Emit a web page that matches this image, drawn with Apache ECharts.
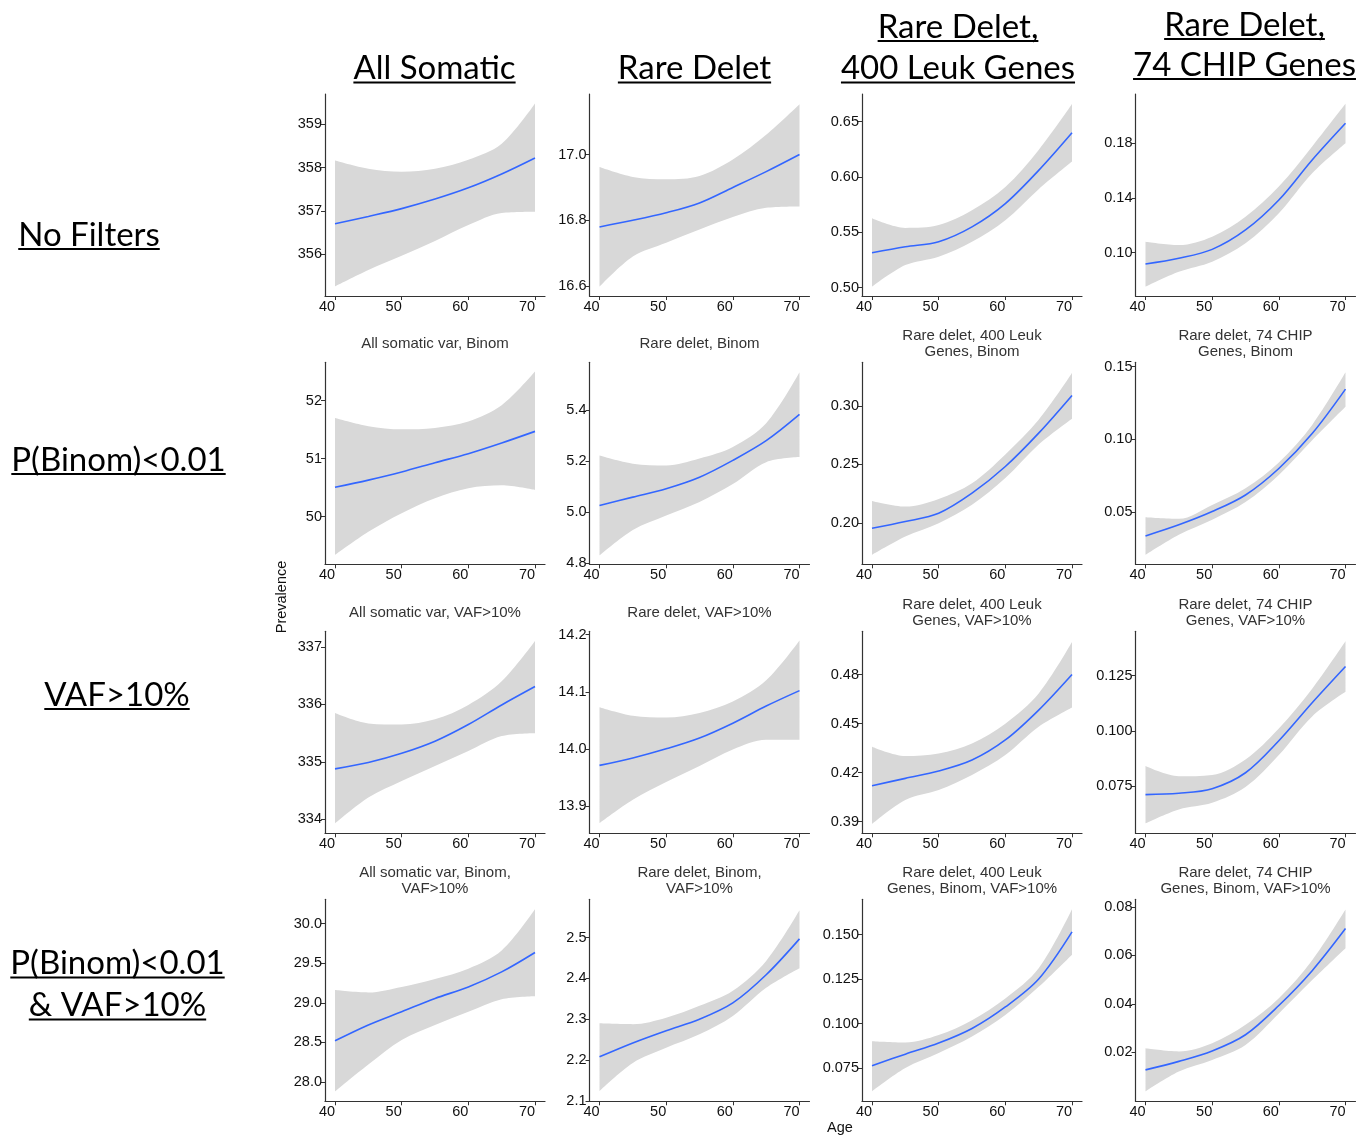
<!DOCTYPE html>
<html><head><meta charset="utf-8">
<script src="https://cdn.jsdelivr.net/npm/echarts@6/dist/echarts.min.js"></script>
<style>html,body{margin:0;padding:0;background:#fff}#c{width:1368px;height:1137px}</style>
</head><body><div id="c"></div><script>
// ---- data ----
const ages = [40, 45, 50, 55, 60, 65, 70];
const ageTicks = ['40', '50', '60', '70'];

const colHeaders = [['All Somatic'], ['Rare Delet'], ['Rare Delet,', '400 Leuk Genes'], ['Rare Delet,', '74 CHIP Genes']];
const rowHeaders = [['No Filters'], ['P(Binom)<0.01'], ['VAF>10%'], ['P(Binom)<0.01', '& VAF>10%']];
const subtitles = [
  ['', '', '', ''],
  ['All somatic var, Binom', 'Rare delet, Binom', 'Rare delet, 400 Leuk\nGenes, Binom', 'Rare delet, 74 CHIP\nGenes, Binom'],
  ['All somatic var, VAF>10%', 'Rare delet, VAF>10%', 'Rare delet, 400 Leuk\nGenes, VAF>10%', 'Rare delet, 74 CHIP\nGenes, VAF>10%'],
  ['All somatic var, Binom,\nVAF>10%', 'Rare delet, Binom,\nVAF>10%', 'Rare delet, 400 Leuk\nGenes, Binom, VAF>10%', 'Rare delet, 74 CHIP\nGenes, Binom, VAF>10%']
];

// Row 1: No filters
const r1c1Fit = [356.70, 356.87, 357.05, 357.27, 357.53, 357.85, 358.22];
const r1c1Hi  = [358.16, 357.97, 357.90, 357.97, 358.18, 358.55, 359.48];
const r1c1Lo  = [355.25, 355.63, 355.96, 356.30, 356.67, 356.95, 356.98];
const r1c1Ticks = ['356', '357', '358', '359'];
const r1c1Range = [355.03, 359.70];

const r1c2Fit = [16.780, 16.800, 16.823, 16.853, 16.900, 16.948, 17.000];
const r1c2Hi  = [16.962, 16.932, 16.925, 16.935, 16.985, 17.060, 17.153];
const r1c2Lo  = [16.598, 16.690, 16.732, 16.772, 16.810, 16.838, 16.842];
const r1c2Ticks = ['16.6', '16.8', '17.0'];
const r1c2Range = [16.57, 17.184];

const r1c3Fit = [0.5316, 0.5370, 0.5416, 0.5550, 0.5760, 0.6060, 0.6400];
const r1c3Hi  = [0.5627, 0.5540, 0.5566, 0.5700, 0.5910, 0.6245, 0.6660];
const r1c3Lo  = [0.5008, 0.5204, 0.5280, 0.5415, 0.5610, 0.5890, 0.6140];
const r1c3Ticks = ['0.50', '0.55', '0.60', '0.65'];
const r1c3Range = [0.4925, 0.675];

const r1c4Fit = [0.0917, 0.0959, 0.1024, 0.1166, 0.1385, 0.1678, 0.1946];
const r1c4Hi  = [0.1080, 0.1056, 0.1117, 0.1263, 0.1483, 0.1776, 0.2088];
const r1c4Lo  = [0.0751, 0.0860, 0.0934, 0.1068, 0.1288, 0.1580, 0.1800];
const r1c4Ticks = ['0.10', '0.14', '0.18'];
const r1c4Range = [0.0683, 0.216];

// Row 2: Binom
const r2c1Fit = [50.506, 50.63, 50.77, 50.93, 51.086, 51.27, 51.47];
const r2c1Hi  = [51.70, 51.56, 51.506, 51.53, 51.64, 51.92, 52.50];
const r2c1Lo  = [49.34, 49.74, 50.06, 50.32, 50.49, 50.54, 50.46];
const r2c1Ticks = ['50', '51', '52'];
const r2c1Range = [49.18, 52.66];

const r2c2Fit = [5.026, 5.059, 5.092, 5.137, 5.203, 5.280, 5.383];
const r2c2Hi  = [5.222, 5.190, 5.183, 5.210, 5.255, 5.348, 5.548];
const r2c2Lo  = [4.830, 4.930, 4.987, 5.040, 5.110, 5.196, 5.216];
const r2c2Ticks = ['4.8', '5.0', '5.2', '5.4'];
const r2c2Range = [4.796, 5.587];

const r2c3Fit = [0.1957, 0.2014, 0.2085, 0.2256, 0.2483, 0.2767, 0.3088];
const r2c3Hi  = [0.2190, 0.2142, 0.2207, 0.2340, 0.2585, 0.2880, 0.3278];
const r2c3Lo  = [0.1730, 0.1886, 0.2000, 0.2156, 0.2384, 0.2670, 0.2890];
const r2c3Ticks = ['0.20', '0.25', '0.30'];
const r2c3Range = [0.165, 0.337];

const r2c4Fit = [0.0338, 0.0414, 0.0505, 0.0619, 0.0801, 0.1041, 0.1346];
const r2c4Hi  = [0.0466, 0.0455, 0.0551, 0.0665, 0.0842, 0.1100, 0.1461];
const r2c4Lo  = [0.0208, 0.0346, 0.0449, 0.0570, 0.0757, 0.0995, 0.1224];
const r2c4Ticks = ['0.05', '0.10', '0.15'];
const r2c4Range = [0.0143, 0.153];

// Row 3: VAF>10%
const r3c1Fit = [334.88, 334.99, 335.15, 335.36, 335.65, 335.99, 336.31];
const r3c1Hi  = [335.85, 335.67, 335.65, 335.74, 335.99, 336.40, 337.10];
const r3c1Lo  = [333.93, 334.38, 334.67, 334.93, 335.19, 335.45, 335.50];
const r3c1Ticks = ['334', '335', '336', '337'];
const r3c1Range = [333.76, 337.27];

const r3c2Fit = [13.971, 13.984, 14.000, 14.019, 14.045, 14.075, 14.102];
const r3c2Hi  = [14.073, 14.058, 14.055, 14.063, 14.083, 14.120, 14.190];
const r3c2Lo  = [13.870, 13.911, 13.942, 13.970, 13.999, 14.016, 14.016];
const r3c2Ticks = ['13.9', '14.0', '14.1', '14.2'];
const r3c2Range = [13.852, 14.206];

const r3c3Fit = [0.4120, 0.4165, 0.4210, 0.4277, 0.4400, 0.4583, 0.4801];
const r3c3Hi  = [0.4359, 0.4302, 0.4318, 0.4379, 0.4500, 0.4685, 0.5000];
const r3c3Lo  = [0.3886, 0.4033, 0.4094, 0.4186, 0.4308, 0.4481, 0.4599];
const r3c3Ticks = ['0.39', '0.42', '0.45', '0.48'];
const r3c3Range = [0.3829, 0.5065];

const r3c4Fit = [0.0711, 0.0717, 0.0738, 0.0810, 0.0955, 0.1127, 0.1291];
const r3c4Hi  = [0.0840, 0.0794, 0.0800, 0.0870, 0.1010, 0.1190, 0.1405];
const r3c4Lo  = [0.0581, 0.0644, 0.0674, 0.0745, 0.0890, 0.1065, 0.1176];
const r3c4Ticks = ['0.075', '0.100', '0.125'];
const r3c4Range = [0.0536, 0.145];

// Row 4: Binom & VAF>10%
const r4c1Fit = [28.52, 28.72, 28.887, 29.055, 29.20, 29.39, 29.635];
const r4c1Hi  = [29.16, 29.13, 29.20, 29.30, 29.43, 29.66, 30.18];
const r4c1Lo  = [27.88, 28.22, 28.53, 28.72, 28.887, 29.046, 29.084];
const r4c1Ticks = ['28.0', '28.5', '29.0', '29.5', '30.0'];
const r4c1Range = [27.757, 30.306];

const r4c2Fit = [2.208, 2.242, 2.272, 2.300, 2.340, 2.409, 2.497];
const r4c2Hi  = [2.290, 2.288, 2.304, 2.333, 2.370, 2.443, 2.567];
const r4c2Lo  = [2.124, 2.193, 2.230, 2.263, 2.308, 2.377, 2.425];
const r4c2Ticks = ['2.1', '2.2', '2.3', '2.4', '2.5'];
const r4c2Range = [2.099, 2.594];

const r4c3Fit = [0.0763, 0.0828, 0.0890, 0.0972, 0.1093, 0.1250, 0.1515];
const r4c3Hi  = [0.0901, 0.0894, 0.0935, 0.1019, 0.1140, 0.1310, 0.1642];
const r4c3Lo  = [0.0619, 0.0750, 0.0834, 0.0927, 0.1048, 0.1206, 0.1387];
const r4c3Ticks = ['0.075', '0.100', '0.125', '0.150'];
const r4c3Range = [0.0563, 0.1698];

const r4c4Fit = [0.0127, 0.0162, 0.0205, 0.0272, 0.0393, 0.0537, 0.0711];
const r4c4Hi  = [0.0216, 0.0203, 0.0237, 0.0313, 0.0423, 0.0580, 0.0790];
const r4c4Lo  = [0.0038, 0.0120, 0.0168, 0.0230, 0.0360, 0.0498, 0.0630];
const r4c4Ticks = ['0.02', '0.04', '0.06', '0.08'];
const r4c4Range = [-0.0003, 0.0832];

const panels = [
  [r1c1Fit, r1c1Lo, r1c1Hi, r1c1Ticks, r1c1Range], [r1c2Fit, r1c2Lo, r1c2Hi, r1c2Ticks, r1c2Range],
  [r1c3Fit, r1c3Lo, r1c3Hi, r1c3Ticks, r1c3Range], [r1c4Fit, r1c4Lo, r1c4Hi, r1c4Ticks, r1c4Range],
  [r2c1Fit, r2c1Lo, r2c1Hi, r2c1Ticks, r2c1Range], [r2c2Fit, r2c2Lo, r2c2Hi, r2c2Ticks, r2c2Range],
  [r2c3Fit, r2c3Lo, r2c3Hi, r2c3Ticks, r2c3Range], [r2c4Fit, r2c4Lo, r2c4Hi, r2c4Ticks, r2c4Range],
  [r3c1Fit, r3c1Lo, r3c1Hi, r3c1Ticks, r3c1Range], [r3c2Fit, r3c2Lo, r3c2Hi, r3c2Ticks, r3c2Range],
  [r3c3Fit, r3c3Lo, r3c3Hi, r3c3Ticks, r3c3Range], [r3c4Fit, r3c4Lo, r3c4Hi, r3c4Ticks, r3c4Range],
  [r4c1Fit, r4c1Lo, r4c1Hi, r4c1Ticks, r4c1Range], [r4c2Fit, r4c2Lo, r4c2Hi, r4c2Ticks, r4c2Range],
  [r4c3Fit, r4c3Lo, r4c3Hi, r4c3Ticks, r4c3Range], [r4c4Fit, r4c4Lo, r4c4Hi, r4c4Ticks, r4c4Range]
];

// ---- layout ----
const colLeft = [325, 589.5, 862, 1135.5];
const rowTop = [94, 362.3, 631.3, 899.3];
const PW = 220, PH = 202;
const SMOOTH = 0.33;
const TICK_FONT = 'Liberation Sans, Arial, sans-serif';
const HEAD_FONT = '33px Lato, "Open Sans", sans-serif';

const grids = [], xAxes = [], yAxes = [], series = [], graphic = [];
const ageVals = ageTicks.map(Number);

panels.forEach((p, k) => {
  const r = Math.floor(k / 4), c = k % 4;
  const [fit, lo, hi, ticks, range] = p;
  const tickVals = ticks.map(Number);
  grids.push({ left: colLeft[c], top: rowTop[r], width: PW, height: PH });
  xAxes.push({
    gridIndex: k, type: 'value', min: 38.5, max: 71.5, z: 5,
    axisLine: { onZero: false, lineStyle: { color: '#333', width: 1.2 } },
    axisTick: { customValues: ageVals, length: 4, lineStyle: { color: '#333', width: 1 } },
    axisLabel: { customValues: ageVals, margin: 3, fontSize: 14.5, fontFamily: TICK_FONT, color: '#111',
      padding: [0, 16, 0, 0], formatter: v => ageTicks[ageVals.indexOf(v)] },
    splitLine: { show: false }
  });
  yAxes.push({
    gridIndex: k, type: 'value', min: range[0], max: range[1], z: 5,
    axisLine: { show: true, onZero: false, lineStyle: { color: '#333', width: 1.2 } },
    axisTick: { show: true, customValues: tickVals, length: 4, lineStyle: { color: '#333', width: 1 } },
    axisLabel: { customValues: tickVals, margin: 3, fontSize: 14.5, fontFamily: TICK_FONT, color: '#111',
      formatter: v => { const i = tickVals.findIndex(t => Math.abs(t - v) < 1e-9); return i >= 0 ? ticks[i] : ''; } },
    splitLine: { show: false }
  });
  // data given as [value, age] with encode so that the stacked dimension is the value (y) one
  const base = { type: 'line', xAxisIndex: k, yAxisIndex: k, smooth: SMOOTH, symbol: 'none', silent: true,
    animation: false, encode: { x: 1, y: 0 } };
  series.push(Object.assign({}, base, { data: ages.map((a, i) => [lo[i], a]), stack: 'band' + k, lineStyle: { opacity: 0 }, z: 1 }));
  series.push(Object.assign({}, base, { data: ages.map((a, i) => [hi[i] - lo[i], a]), stack: 'band' + k,
    lineStyle: { opacity: 0 }, areaStyle: { color: '#D8D8D8', opacity: 1 }, z: 1 }));
  series.push(Object.assign({}, base, { data: ages.map((a, i) => [fit[i], a]), lineStyle: { color: '#3366FF', width: 1.6 }, z: 3 }));

  const sub = subtitles[r][c];
  if (sub) {
    graphic.push({ type: 'text', silent: true, style: { text: sub, x: colLeft[c] + PW / 2, y: rowTop[r] - 18.5,
      font: '15px ' + TICK_FONT, fill: '#333', align: 'center', verticalAlign: 'middle',
      textAlign: 'center', textVerticalAlign: 'middle', lineHeight: 16 } });
  }
});

// headers with underlines
const mctx = document.createElement('canvas').getContext('2d');
mctx.font = HEAD_FONT;
function header(lines, cx, uls) {
  lines.forEach((t, i) => {
    const w = mctx.measureText(t).width;
    graphic.push({ type: 'text', silent: true, style: { text: t, x: cx, y: uls[i] - 14, font: HEAD_FONT, fill: '#000',
      align: 'center', verticalAlign: 'middle', textAlign: 'center', textVerticalAlign: 'middle' } });
    graphic.push({ type: 'rect', silent: true, shape: { x: cx - w / 2, y: uls[i] - 1, width: w, height: 2 }, style: { fill: '#000' } });
  });
}
header(colHeaders[0], 434.5, [82.5]);
header(colHeaders[1], 694.5, [82.5]);
header(colHeaders[2], 958, [41, 82.5]);
header(colHeaders[3], 1244.5, [39, 79]);
header(rowHeaders[0], 89, [249]);
header(rowHeaders[1], 118.5, [474]);
header(rowHeaders[2], 117, [709]);
header(rowHeaders[3], 117.5, [977.5, 1019.5]);

graphic.push({ type: 'text', silent: true, rotation: Math.PI / 2, x: 282, y: 597,
  style: { text: 'Prevalence', x: 0, y: 0, font: '14.5px ' + TICK_FONT, fill: '#111', align: 'center', verticalAlign: 'middle',
    textAlign: 'center', textVerticalAlign: 'middle' } });
graphic.push({ type: 'text', silent: true, style: { text: 'Age', x: 840, y: 1128, font: '14.5px ' + TICK_FONT, fill: '#111',
  align: 'center', verticalAlign: 'middle', textAlign: 'center', textVerticalAlign: 'middle' } });

const chart = echarts.init(document.getElementById('c'), null, { renderer: 'canvas' });
chart.setOption({ animation: false, backgroundColor: '#fff', grid: grids, xAxis: xAxes, yAxis: yAxes, series: series, graphic: graphic });
</script></body></html>
